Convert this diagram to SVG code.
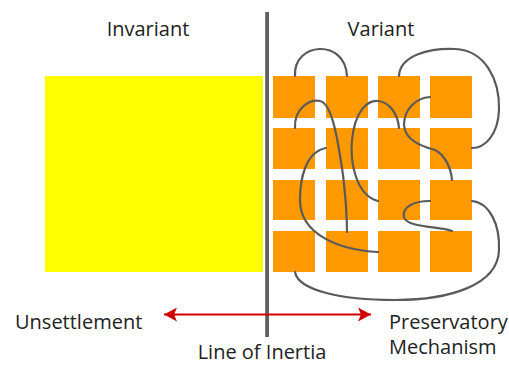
<svg xmlns="http://www.w3.org/2000/svg" width="509" height="365" viewBox="0 0 509 365">
<style>
.lbl{font-family:"Open Sans","Liberation Sans",sans-serif;font-size:20px;fill:#222}
.sq{fill:#ff9900}
.lnk{fill:none;stroke:#5a5a5a;stroke-width:2.2;stroke-linecap:round}
</style>
<defs>
<marker id="ah" markerWidth="14" markerHeight="14" refX="13" refY="7" orient="auto-start-reverse" markerUnits="userSpaceOnUse">
<path d="M0,0 L13,7 L0,14 L3,7 Z" fill="#d00000"/>
</marker>
</defs>
<rect width="509" height="365" fill="#fff"/>
<g id="invariant"><rect x="45" y="76" width="218" height="196" fill="#ffff00"/></g>
<g id="variant">
<rect class="sq" x="273" y="76" width="42" height="42"/><rect class="sq" x="326" y="76" width="42" height="42"/><rect class="sq" x="378" y="76" width="42" height="42"/><rect class="sq" x="430" y="76" width="42" height="42"/>
<rect class="sq" x="273" y="128" width="42" height="41"/><rect class="sq" x="326" y="128" width="42" height="41"/><rect class="sq" x="378" y="128" width="42" height="41"/><rect class="sq" x="430" y="128" width="42" height="41"/>
<rect class="sq" x="273" y="180" width="42" height="40"/><rect class="sq" x="326" y="180" width="42" height="40"/><rect class="sq" x="378" y="180" width="42" height="40"/><rect class="sq" x="430" y="180" width="42" height="40"/>
<rect class="sq" x="273" y="231" width="42" height="41"/><rect class="sq" x="326" y="231" width="42" height="41"/><rect class="sq" x="378" y="231" width="42" height="41"/><rect class="sq" x="430" y="231" width="42" height="41"/>
</g>
<g id="inertia-line"><rect x="265.2" y="12" width="3.8" height="325" fill="#606060"/></g>
<g id="connectors">
<path class="lnk" d="M295,76 C293,42 345,38 347,76"/>
<path class="lnk" d="M399,76 C400,55 430,48 455,49 C485,50 500,80 499,110 C498,135 485,148 472,148"/>
<path class="lnk" d="M295,128 C294,108 310,99 320,101 C332,103 338,140 343,175 C346,200 347,215 347,232"/>
<path class="lnk" d="M326,148 C305,152 300,180 300,200 C300,235 340,250 378,252"/>
<path class="lnk" d="M378,201 C355,195 350,160 352,140 C355,110 368,100 378,101 C390,102 398,115 399,128"/>
<path class="lnk" d="M430,97 C415,98 404,110 404,125 C405,142 425,147 435,150 C445,155 451,168 452,180"/>
<path class="lnk" d="M430,201 C412,201 402,208 404,217 C407,228 440,226 452,231"/>
<path class="lnk" d="M472,201 C490,203 500,225 499,250 C498,285 450,300 395,300 C340,300 298,290 295,272"/>
<line x1="164" y1="314.5" x2="371" y2="314.5" stroke="#d00000" stroke-width="2.2" marker-start="url(#ah)" marker-end="url(#ah)"/>
</g>
<g id="labels">
<text class="lbl" x="148" y="36" text-anchor="middle">Invariant</text>
<text class="lbl" x="381" y="36" text-anchor="middle">Variant</text>
<text class="lbl" x="15" y="329">Unsettlement</text>
<text class="lbl" x="262" y="359" text-anchor="middle">Line of Inertia</text>
<text class="lbl" x="389" y="329">Preservatory</text>
<text class="lbl" x="389" y="354">Mechanism</text>
</g>
</svg>
